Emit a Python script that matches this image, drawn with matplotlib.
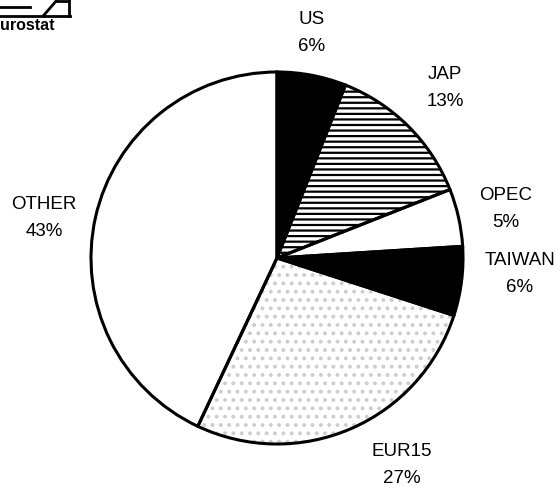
import matplotlib
matplotlib.use('Agg')
from matplotlib import pyplot as plt

# data
labels = ['US', 'JAP', 'OPEC', 'TAIWAN', 'EUR15', 'OTHER']
shares = [6, 13, 5, 6, 27, 43]

# looks
fills = ['black', 'white', 'white', 'black', 'white', 'white']
hatches = [None, '---', None, None, '..', None]
hatch_cols = ['black', 'black', 'black', 'black', '#cdcdcd', 'black']
# label centres in pixels (x, y from top)
label_xy = [(312, 33), (445, 88), (506, 209), (520, 274), (402, 465), (44, 218)]

W, H = 560, 488
fig = plt.figure(figsize=(W / 100, H / 100), dpi=100)
ax = fig.add_axes([0, 0, 1, 1])
ax.set_xlim(0, W)
ax.set_ylim(0, H)
ax.set_aspect('equal')
ax.axis('off')

center = (277, H - 258)
radius = 186

plt.rcParams['hatch.linewidth'] = 1.6
wedges, _ = ax.pie(shares, startangle=90, counterclock=False,
                   center=center, radius=radius, colors=fills,
                   wedgeprops=dict(linewidth=0))
for w, h, hc in zip(wedges, hatches, hatch_cols):
    if h:
        w.set_hatch(h)
        w.set_edgecolor(hc)

# black outline on top
ax.pie(shares, startangle=90, counterclock=False, center=center,
       radius=radius, colors=['none'] * len(shares),
       wedgeprops=dict(linewidth=2.2, edgecolor='black', fill=False))

ax.set_xlim(0, W)
ax.set_ylim(0, H)

for lab, v, (x, y) in zip(labels, shares, label_xy):
    ax.text(x, H - y, '%s\n%d%%' % (lab, v), ha='center', va='center',
            fontsize=13.5, family='Liberation Sans', linespacing=1.7)

# eurostat logo (left part cut off in the scan)
ax.text(0, H - 26, 'urostat', ha='left', va='center', fontsize=11.5,
        fontweight='bold', family='Liberation Sans')
ax.plot([0, 70], [H - 16, H - 16], color='black', lw=2)
ax.plot([69, 69], [H - 16, H], color='black', lw=2)
ax.plot([0, 30], [H - 7, H - 7], color='black', lw=2)
ax.plot([44, 57], [H - 15, H], color='black', lw=2)
ax.plot([56, 68], [H - 1, H - 1], color='black', lw=2)

fig.savefig('out.png', dpi=100)
